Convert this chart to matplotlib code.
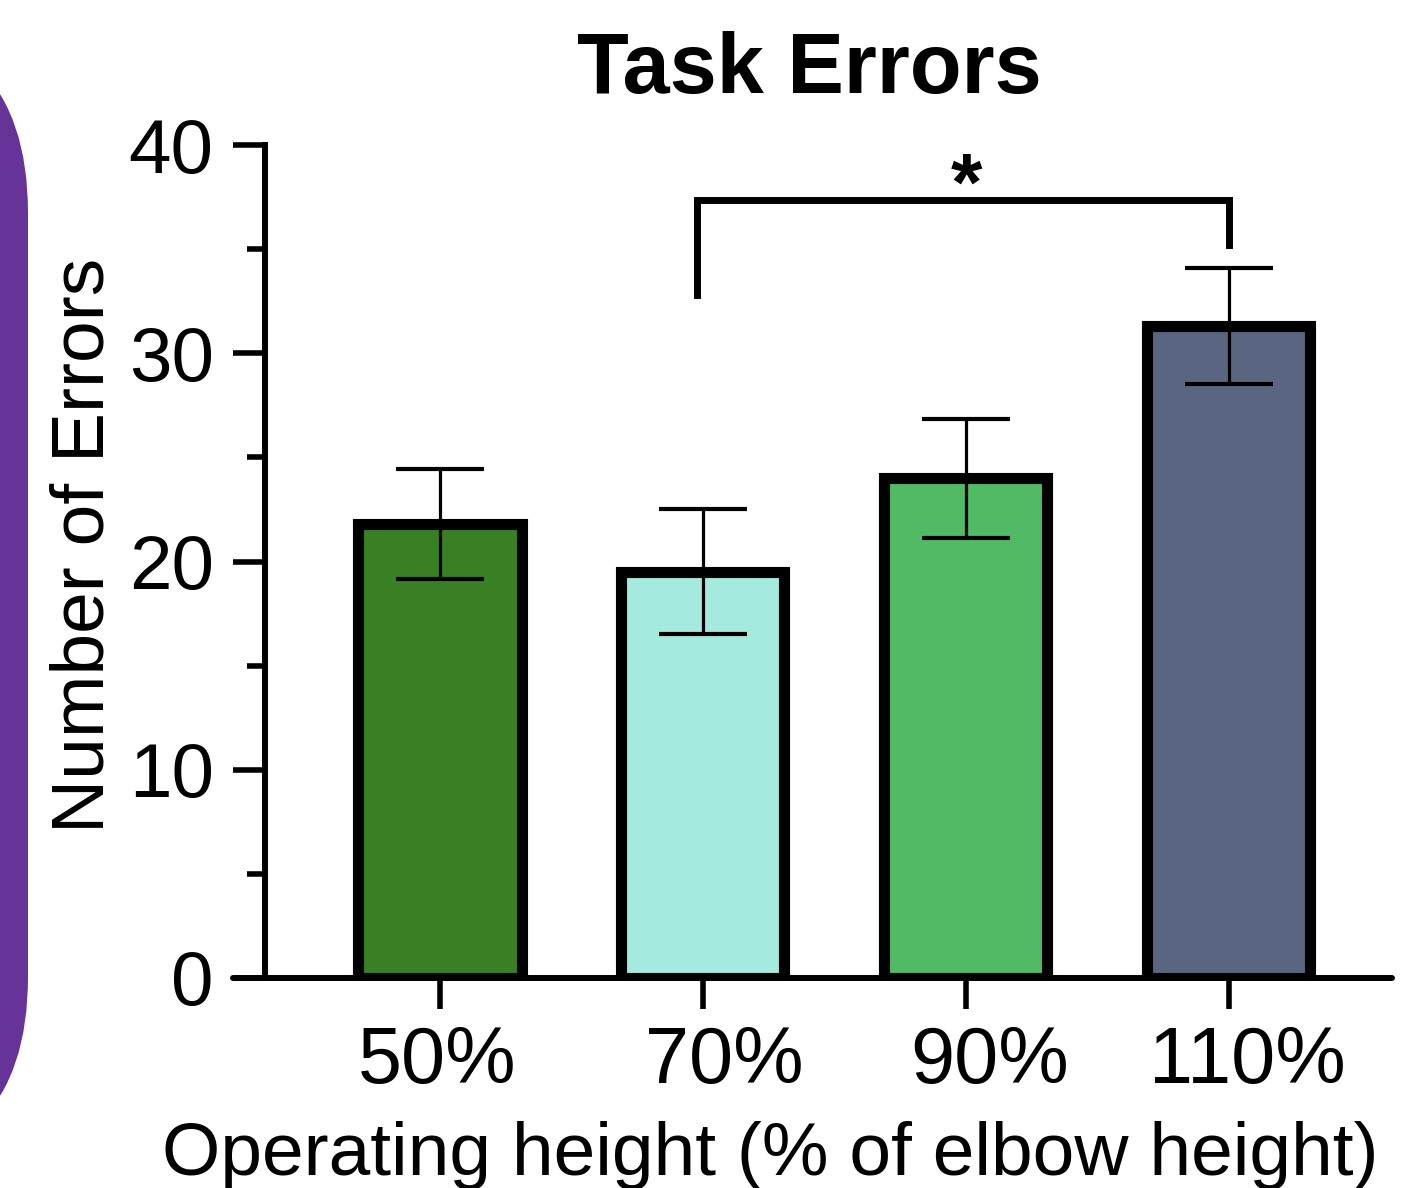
import numpy as np
import matplotlib
matplotlib.use("Agg")
import matplotlib.pyplot as plt
from matplotlib.patches import FancyBboxPatch
from matplotlib.ticker import MultipleLocator
from matplotlib.transforms import ScaledTranslation

plt.rcParams['font.family'] = ['Liberation Sans', 'DejaVu Sans']

# data
heights = ['50%', '70%', '90%', '110%']
errors = [21.8, 19.5, 24.0, 31.3]
sem = [2.65, 3.0, 2.85, 2.8]
colors = ['#388023', '#a4eade', '#50bb64', '#5a6582']

fig = plt.figure(figsize=(14.1, 11.88), dpi=100)

# purple side panel (mostly off-canvas)
panel = FancyBboxPatch((-3.7, 0.18), 3.98, 11.5,
                       boxstyle="round,pad=0,rounding_size=1.93",
                       transform=fig.dpi_scale_trans, facecolor='#663399',
                       edgecolor='none')
fig.patches.append(panel)

ax = fig.add_axes([233 / 1410, 210 / 1188, 1159 / 1410, 833 / 1188])

x = np.arange(len(heights))
ax.bar(x, errors, width=0.62, color=colors, edgecolor='black', linewidth=8, zorder=2)
ax.errorbar(x, errors, yerr=sem, fmt='none', ecolor='black', elinewidth=2.3,
            capsize=32, capthick=3, zorder=3)

ax.set_xlim(-0.787, 3.62)
ax.set_ylim(0, 40)

for s in ['top', 'right']:
    ax.spines[s].set_visible(False)
ax.spines['left'].set_position(('data', -0.665))
ax.spines['left'].set_bounds(0, 40)
ax.spines['left'].set_linewidth(4.3)
ax.spines['bottom'].set_linewidth(4.3)
ax.spines['bottom'].set_capstyle('round')

ax.yaxis.set_major_locator(MultipleLocator(10))
ax.yaxis.set_minor_locator(MultipleLocator(5))
ax.tick_params(axis='y', which='major', length=23, width=4, labelsize=55, pad=14)
ax.tick_params(axis='y', which='minor', length=13, width=4)
ax.set_xticks(x)
ax.set_xticklabels(heights)
ax.tick_params(axis='x', length=22, width=4, labelsize=57, pad=12)
# labels in the original sit slightly off their ticks
shifts = [-3, 21, 24, 18]
for lab, dx in zip(ax.get_xticklabels(), shifts):
    lab.set_transform(lab.get_transform() + ScaledTranslation(dx / 100, 0, fig.dpi_scale_trans))

# significance bracket 70% vs 110%
bx = [0.977, 0.977, 3.0, 3.0]
by = [32.8, 37.35, 37.35, 35.2]
ax.plot(bx, by, color='black', lw=5, clip_on=False, solid_joinstyle='miter')
ax.text(2.0, 36.1, '*', ha='center', va='bottom', fontsize=58, fontweight='bold')

fig.text(809 / 1410, 1 - 93 / 1188, 'Task Errors', ha='center', va='baseline',
         fontsize=61, fontweight='bold')
fig.text(770 / 1410, 1 - 1175 / 1188, 'Operating height (% of elbow height)',
         ha='center', va='baseline', fontsize=54)
fig.text(84 / 1410, 1 - 545 / 1188, 'Number of Errors', ha='center', va='center',
         rotation=90, fontsize=54)

fig.savefig('out.png', dpi=100)
